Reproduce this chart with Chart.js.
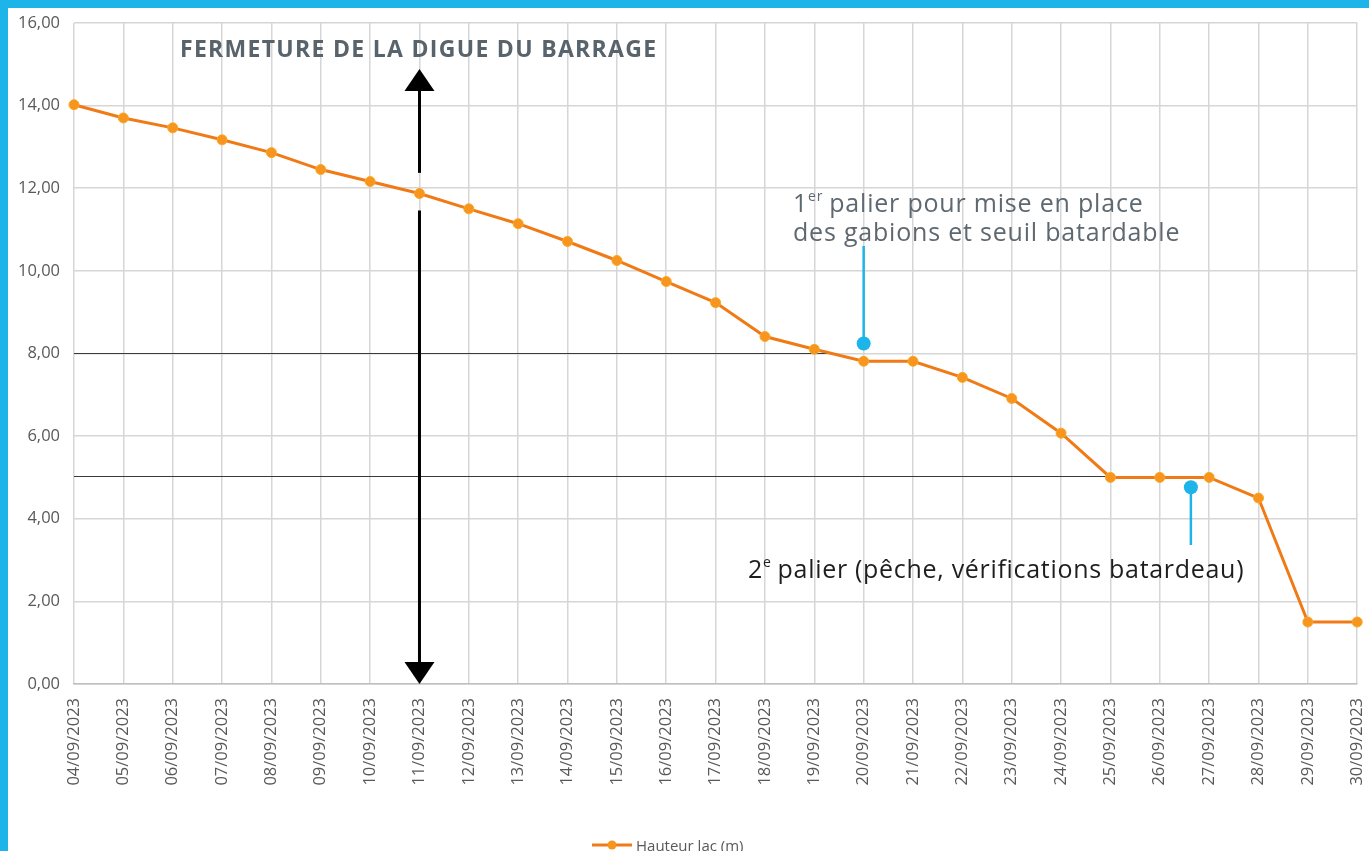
<!DOCTYPE html>
<html><head><meta charset="utf-8">
<script src="https://cdn.jsdelivr.net/npm/chart.js@4"></script>
<style>
html,body{margin:0;padding:0;background:#1DB5E9;overflow:hidden}
#wrap{position:absolute;left:8px;top:8px;width:1361px;height:843px;background:#fff;overflow:hidden}
#inner{position:absolute;left:0;top:-9px;width:1383px;height:852px}
</style></head><body><div id="wrap"><div id="inner"><canvas id="c"></canvas></div></div>
<script>
const categories = ['04/09/2023','05/09/2023','06/09/2023','07/09/2023','08/09/2023','09/09/2023','10/09/2023','11/09/2023','12/09/2023','13/09/2023','14/09/2023','15/09/2023','16/09/2023','17/09/2023','18/09/2023','19/09/2023','20/09/2023','21/09/2023','22/09/2023','23/09/2023','24/09/2023','25/09/2023','26/09/2023','27/09/2023','28/09/2023','29/09/2023','30/09/2023'];
const lakeHeight = [14.02,13.70,13.46,13.17,12.86,12.45,12.16,11.87,11.50,11.14,10.71,10.25,9.74,9.23,8.41,8.10,7.81,7.81,7.42,6.91,6.07,5.00,5.00,5.00,4.50,1.50,1.50];
const seriesName = 'Hauteur lac (m)';
const yMin = 0, yMax = 16, yStep = 2;
const referenceLevels = [8.0, 5.03];
const referenceEndIndex = [15.45, 21];
const closureIndex = 7;
const titleText = 'FERMETURE DE LA DIGUE DU BARRAGE';
const note1Lines = ['palier pour mise en place', 'des gabions et seuil batardable'];
const note2Text = 'palier (pêche, vérifications batardeau)';

const ORANGE = '#F07A16', POINT = '#F7951E', CYAN = '#1DB5E9', GREY = '#595959';
// canvas origin in page coordinates
const OX = 8, OY = -1;
const px = v => v - OX, py = v => v - OY;

const annot = {
  id: 'annot',
  beforeDatasetsDraw(chart) {
    const {ctx, chartArea, scales: {x, y}} = chart;
    ctx.save();
    ctx.strokeStyle = '#3a3a3a'; ctx.lineWidth = 1.2;
    referenceLevels.forEach((v, i) => {
      const yy = Math.round(y.getPixelForValue(v)) + 0.5;
      ctx.beginPath(); ctx.moveTo(chartArea.left, yy); ctx.lineTo(x.getPixelForValue(referenceEndIndex[i]), yy); ctx.stroke();
    });
    ctx.restore();
  },
  afterDatasetsDraw(chart) {
    const {ctx, chartArea, scales: {x, y}} = chart;
    ctx.save();
    // vertical double arrow
    const ax = x.getPixelForValue(closureIndex);
    const top = chartArea.top + 46, bot = chartArea.bottom;
    ctx.strokeStyle = '#000'; ctx.fillStyle = '#000'; ctx.lineWidth = 3;
    ctx.beginPath(); ctx.moveTo(ax, top + 20); ctx.lineTo(ax, y.getPixelForValue(12.37)); ctx.stroke();
    ctx.beginPath(); ctx.moveTo(ax, y.getPixelForValue(11.46)); ctx.lineTo(ax, bot - 20); ctx.stroke();
    ctx.beginPath(); ctx.moveTo(ax, top); ctx.lineTo(ax - 15, top + 22); ctx.lineTo(ax + 15, top + 22); ctx.closePath(); ctx.fill();
    ctx.beginPath(); ctx.moveTo(ax, bot); ctx.lineTo(ax - 15, bot - 22); ctx.lineTo(ax + 15, bot - 22); ctx.closePath(); ctx.fill();
    // title
    ctx.textBaseline = 'alphabetic'; ctx.textAlign = 'left';
    ctx.fillStyle = '#59636B'; ctx.font = 'bold 23px "Open Sans"'; ctx.letterSpacing = '1.3px';
    ctx.fillText(titleText, px(180), py(57));
    // note 1
    const d1x = x.getPixelForValue(16), d1y = y.getPixelForValue(8.24);
    ctx.strokeStyle = CYAN; ctx.lineWidth = 2.5;
    ctx.beginPath(); ctx.moveTo(d1x, py(246)); ctx.lineTo(d1x, d1y); ctx.stroke();
    ctx.fillStyle = CYAN; ctx.beginPath(); ctx.arc(d1x, d1y, 7, 0, Math.PI * 2); ctx.fill();
    ctx.fillStyle = '#5E6870';
    ctx.letterSpacing = '0.8px';
    ctx.font = '25px "Open Sans"';
    ctx.fillText('1', px(793), py(212));
    const w1 = ctx.measureText('1').width;
    ctx.font = '14px "Open Sans"';
    ctx.fillText('er', px(793) + w1, py(201));
    const we = ctx.measureText('er').width;
    ctx.font = '25px "Open Sans"';
    ctx.fillText(note1Lines[0], px(793) + w1 + we + 6, py(212));
    ctx.fillText(note1Lines[1], px(793), py(241));
    // note 2
    const d2x = x.getPixelForValue(22.63), d2y = y.getPixelForValue(4.76);
    ctx.strokeStyle = CYAN; ctx.lineWidth = 2.5;
    ctx.beginPath(); ctx.moveTo(d2x, d2y); ctx.lineTo(d2x, py(545)); ctx.stroke();
    ctx.fillStyle = CYAN; ctx.beginPath(); ctx.arc(d2x, d2y, 7, 0, Math.PI * 2); ctx.fill();
    ctx.fillStyle = '#1E1E1E';
    ctx.letterSpacing = '0.7px';
    ctx.font = '25px "Open Sans"';
    ctx.fillText('2', px(748), py(578));
    const w2 = ctx.measureText('2').width;
    ctx.font = '14px "Open Sans"';
    ctx.fillText('e', px(748) + w2, py(567));
    const we2 = ctx.measureText('e').width;
    ctx.font = '25px "Open Sans"';
    ctx.fillText(note2Text, px(748) + w2 + we2 + 6, py(578));
    ctx.letterSpacing = '0px';
    // legend
    const ly = py(845);
    ctx.strokeStyle = ORANGE; ctx.lineWidth = 3;
    ctx.beginPath(); ctx.moveTo(px(592), ly); ctx.lineTo(px(632), ly); ctx.stroke();
    ctx.fillStyle = POINT; ctx.beginPath(); ctx.arc(px(612), ly, 4.5, 0, Math.PI * 2); ctx.fill();
    ctx.fillStyle = GREY; ctx.font = '15px "Open Sans"'; ctx.textBaseline = 'middle';
    ctx.fillText(seriesName, px(636), ly + 2);
    ctx.restore();
  }
};

new Chart(document.getElementById('c'), {
  type: 'line',
  data: {
    labels: categories,
    datasets: [{
      label: seriesName,
      data: lakeHeight,
      borderColor: ORANGE,
      borderWidth: 3,
      backgroundColor: POINT,
      pointBackgroundColor: POINT,
      pointBorderColor: '#F9A825',
      pointBorderWidth: 1,
      pointRadius: 5,
      tension: 0
    }]
  },
  options: {
    responsive: true,
    maintainAspectRatio: false,
    animation: false,
    layout: {padding: {top: 14, right: 11, left: 0, bottom: 0}},
    plugins: {legend: {display: false}, tooltip: {enabled: false}},
    scales: {
      x: {
        offset: false,
        afterFit: s => { s.height = 167; },
        grid: {color: '#D6D6D6', lineWidth: 1.5, drawTicks: false},
        border: {color: '#BFBFBF', width: 1.5},
        ticks: {color: GREY, font: {family: 'Open Sans', size: 16.5}, minRotation: 90, maxRotation: 90, padding: 14, autoSkip: false}
      },
      y: {
        min: yMin, max: yMax,
        afterFit: s => { s.width = 66; },
        grid: {color: '#D6D6D6', lineWidth: 1.5, drawTicks: false},
        border: {display: false},
        ticks: {stepSize: yStep, color: GREY, font: {family: 'Open Sans', size: 16.5}, padding: 14,
          callback: v => v.toFixed(2).replace('.', ',')}
      }
    }
  },
  plugins: [annot]
});
</script></body></html>
